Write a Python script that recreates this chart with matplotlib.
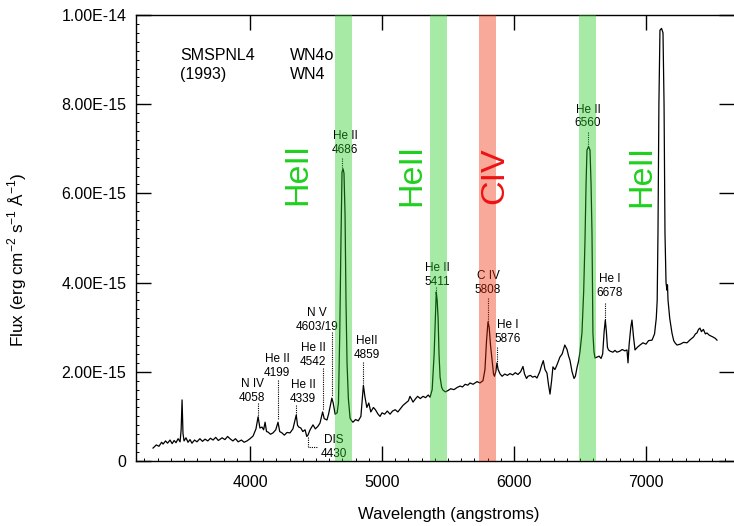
import matplotlib
matplotlib.use("Agg")
import matplotlib.pyplot as plt
from matplotlib.ticker import MultipleLocator

plt.rcParams['font.family'] = ['Liberation Sans', 'DejaVu Sans']
plt.rcParams['mathtext.fontset'] = 'custom'
plt.rcParams['mathtext.rm'] = 'Liberation Sans'

# ---------------- data ----------------
wavelength = [
    3265, 3290, 3310, 3330, 3341, 3360, 3375, 3394, 3410, 3425, 3439, 3455, 3470, 3478, 3485, 3492,
    3500, 3515, 3530, 3545, 3560, 3580, 3598, 3620, 3640, 3659, 3680, 3700, 3720, 3740, 3760, 3788,
    3810, 3830, 3848, 3870, 3890, 3910, 3935, 3955, 3977, 4000, 4023, 4045, 4061, 4075, 4091, 4103,
    4114, 4125, 4136, 4155, 4174, 4195, 4212, 4225, 4242, 4260, 4280, 4303, 4325, 4350, 4360, 4370,
    4385, 4400, 4417, 4430, 4439, 4455, 4477, 4495, 4515, 4530, 4550, 4562, 4583, 4595, 4606, 4620,
    4630, 4645, 4660, 4670, 4680, 4689, 4697, 4705, 4712, 4720, 4727, 4735, 4745, 4758, 4770, 4780,
    4800, 4820, 4840, 4859, 4870, 4885, 4900, 4915, 4935, 4950, 4970, 4985, 5000, 5020, 5040, 5061,
    5080, 5100, 5120, 5136, 5160, 5180, 5200, 5212, 5225, 5235, 5255, 5270, 5290, 5311, 5330, 5350,
    5364, 5380, 5395, 5405, 5411, 5418, 5425, 5432, 5440, 5452, 5462, 5480, 5500, 5520, 5545, 5570,
    5591, 5610, 5630, 5650, 5667, 5690, 5720, 5742, 5765, 5780, 5792, 5803, 5812, 5822, 5833, 5845,
    5852, 5862, 5871, 5880, 5895, 5910, 5930, 5950, 5970, 5990, 6010, 6030, 6050, 6068, 6080, 6095,
    6106, 6125, 6140, 6160, 6174, 6195, 6210, 6222, 6235, 6250, 6262, 6273, 6285, 6295, 6310, 6325,
    6348, 6365, 6385, 6402, 6414, 6424, 6440, 6455, 6465, 6478, 6490, 6500, 6515, 6528, 6538, 6546,
    6553, 6565, 6576, 6584, 6591, 6598, 6606, 6614, 6630, 6645, 6660, 6672, 6683, 6692, 6700, 6708,
    6716, 6730, 6750, 6765, 6780, 6800, 6820, 6840, 6856, 6864, 6872, 6885, 6894, 6905, 6917, 6935,
    6955, 6977, 7000, 7020, 7046, 7065, 7078, 7085, 7091, 7098, 7106, 7118, 7129, 7137, 7144, 7152,
    7159, 7163, 7167, 7180, 7197, 7210, 7220, 7235, 7260, 7285, 7311, 7335, 7360, 7375, 7386, 7398,
    7409, 7420, 7435, 7450, 7462, 7480, 7495, 7508, 7525, 7538,
]
flux_e15 = [
    0.29, 0.36, 0.33, 0.42, 0.38, 0.45, 0.40, 0.47, 0.39, 0.46, 0.41, 0.50, 0.43, 0.70, 1.37, 0.62,
    0.45, 0.52, 0.42, 0.48, 0.40, 0.47, 0.43, 0.50, 0.44, 0.49, 0.45, 0.51, 0.47, 0.53, 0.46, 0.52,
    0.48, 0.55, 0.50, 0.45, 0.50, 0.43, 0.47, 0.42, 0.45, 0.50, 0.56, 0.72, 0.99, 0.74, 0.76, 0.70,
    0.87, 0.66, 0.65, 0.60, 0.63, 0.70, 0.87, 0.66, 0.63, 0.58, 0.64, 0.63, 0.72, 1.03, 0.80, 0.76,
    0.74, 0.66, 0.70, 0.55, 0.58, 0.70, 0.81, 0.72, 0.78, 0.85, 1.10, 0.95, 0.92, 1.05, 1.21, 1.41,
    1.30, 1.05, 1.08, 1.30, 2.90, 4.95, 6.48, 6.55, 6.45, 5.52, 3.61, 2.20, 1.40, 0.96, 0.90, 0.87,
    0.93, 0.90, 1.00, 1.70, 1.45, 1.20, 1.30, 1.10, 1.20, 1.15, 1.05, 1.00, 1.08, 1.05, 1.12, 1.05,
    1.12, 1.15, 1.10, 1.16, 1.25, 1.30, 1.35, 1.45, 1.38, 1.32, 1.40, 1.45, 1.40, 1.45, 1.42, 1.48,
    1.43, 1.60, 2.40, 3.30, 3.79, 3.60, 3.20, 2.40, 1.88, 1.65, 1.59, 1.55, 1.58, 1.62, 1.60, 1.65,
    1.68, 1.66, 1.72, 1.70, 1.75, 1.72, 1.78, 1.75, 1.80, 2.05, 2.70, 3.12, 3.00, 2.60, 2.30, 1.95,
    1.90, 2.00, 2.20, 2.05, 1.95, 1.90, 1.95, 1.92, 1.96, 1.93, 1.98, 1.94, 2.00, 2.12, 1.95, 1.85,
    1.90, 1.92, 1.88, 1.90, 1.86, 2.00, 2.15, 2.25, 2.05, 1.97, 1.70, 1.50, 1.80, 2.11, 2.05, 2.15,
    2.33, 2.40, 2.60, 2.50, 2.35, 2.26, 2.00, 1.85, 1.90, 2.10, 2.25, 2.45, 2.87, 3.80, 4.95, 6.20,
    6.97, 7.05, 6.97, 6.20, 5.11, 2.87, 2.45, 2.31, 2.33, 2.35, 2.30, 2.40, 2.90, 3.16, 2.90, 2.55,
    2.49, 2.46, 2.44, 2.48, 2.44, 2.46, 2.50, 2.47, 2.49, 2.20, 2.60, 3.00, 3.16, 2.80, 2.49, 2.55,
    2.60, 2.65, 2.62, 2.70, 2.71, 2.85, 3.20, 3.60, 5.11, 8.00, 9.66, 9.70, 9.60, 8.00, 5.11, 4.00,
    3.83, 3.95, 3.61, 3.20, 2.87, 2.70, 2.65, 2.60, 2.62, 2.66, 2.65, 2.72, 2.78, 2.85, 2.87, 2.95,
    2.98, 2.90, 2.95, 2.85, 2.87, 2.82, 2.80, 2.78, 2.75, 2.71,
]
FLUX_UNIT = 1e-15

# x ticks / y ticks
xtick_values = [4000, 5000, 6000, 7000]
xtick_labels = ["4000", "5000", "6000", "7000"]
ytick_values_e15 = [0, 2, 4, 6, 8, 10]
ytick_labels = ["0", "2.00E-15", "4.00E-15", "6.00E-15", "8.00E-15", "1.00E-14"]

# line identifications: text, text position (wavelength, flux), marker line (wavelength, flux from, flux to)
line_labels = ["N IV\n4058", "He II\n4199", "He II\n4339", "He II\n4542", "N V\n4603/19",
               "HeII\n4859", "He II\n4686", "He II\n5411", "C IV\n5808", "He I\n5876",
               "He II\n6560", "He I\n6678"]
label_wl = [4015, 4205, 4402, 4477, 4508, 4886, 4720, 5417, 5803, 5955, 6561, 6727]
label_fx = [1.57, 2.13, 1.55, 2.38, 3.16, 2.53, 7.13, 4.17, 3.99, 2.89, 7.73, 3.92]
mark_wl = [4061, 4212, 4350, 4550, 4621, 4859, 4700, 5411, 5803, 5871, 6561, 6692]
mark_f0 = [1.30, 1.82, 1.26, 2.09, 2.89, 2.22, 6.79, 3.90, 3.65, 2.56, 7.38, 3.54]
mark_f1 = [0.99, 0.92, 1.03, 1.14, 1.46, 1.75, 6.55, 3.79, 3.12, 2.20, 7.05, 3.16]

# diffuse interstellar band marker
dis_label = "DIS\n4430"
dis_text_pos = (4636, 0.31)
dis_wl = [4439, 4439, 4515]
dis_fx = [0.54, 0.31, 0.31]

# highlighted bands: (centre, half width), colour, label
band_centers = [4708, 5428, 5800, 6556]
band_halfwidth = [64, 64, 64, 64]
band_colors = ["#22cc22", "#22cc22", "#f02800", "#22cc22"]
band_text = ["HeII", "HeII", "CIV", "HeII"]
band_text_wl = [4361, 5228, 5856, 6968]
band_text_colors = ["#1fd01f", "#1fd01f", "#ee1111", "#1fd01f"]
band_text_fx = [6.44, 6.42, 6.39, 6.39]

# ---------------- figure ----------------
fig = plt.figure(figsize=(7.34, 5.26), dpi=100)
ax = fig.add_axes([136 / 734, 65 / 526, 1 - 136 / 734, 446 / 526])

flux = [f * FLUX_UNIT for f in flux_e15]
ax.plot(wavelength, flux, color="black", lw=0.9, zorder=2)

ax.set_xlim(3136, 7667)
ax.set_ylim(0, 1e-14)

ax.set_xticks(xtick_values)
ax.set_xticklabels(xtick_labels)
ax.set_yticks([v * FLUX_UNIT for v in ytick_values_e15])
ax.set_yticklabels(ytick_labels)
ax.xaxis.set_minor_locator(MultipleLocator(100))
ax.yaxis.set_minor_locator(MultipleLocator(2e-16))

ax.tick_params(axis="both", which="major", direction="in", length=11, width=1,
               labelsize=11.5, top=True, right=True)
ax.tick_params(axis="both", which="minor", direction="in", length=2.5, width=0.7,
               top=False, right=False)
ax.tick_params(axis="x", which="major", pad=10)
ax.tick_params(axis="y", which="major", pad=7)
ax.spines["right"].set_visible(False)
for s in ["left", "bottom", "top"]:
    ax.spines[s].set_linewidth(1.0)

ax.set_xlabel("Wavelength (angstroms)", fontsize=12)
ax.xaxis.set_label_coords((449 - 136) / 598, (461 - 507) / 446)
ax.set_ylabel(r"Flux (erg cm$^{-2}$ s$^{-1}$ Å$^{-1}$)", fontsize=12.3)
ax.yaxis.set_label_coords((29 - 136) / 598, (461 - 260) / 446)

# header text
ax.text(3470, 9.10e-15, "SMSPNL4", fontsize=11.5, ha="left", va="center")
ax.text(3470, 8.66e-15, "(1993)", fontsize=11.5, ha="left", va="center")
ax.text(4303, 9.10e-15, "WN4o", fontsize=11.5, ha="left", va="center")
ax.text(4303, 8.66e-15, "WN4", fontsize=11.5, ha="left", va="center")

# line identifications
for txt, lx, ly, mx, m0, m1 in zip(line_labels, label_wl, label_fx, mark_wl, mark_f0, mark_f1):
    ax.text(lx, ly * FLUX_UNIT, txt, fontsize=8.5, ha="center", va="center",
            linespacing=1.15, zorder=2)
    ax.plot([mx, mx], [m0 * FLUX_UNIT, m1 * FLUX_UNIT], color="black", lw=0.8,
            ls=(0, (1, 1)), zorder=2)

ax.text(dis_text_pos[0], dis_text_pos[1] * FLUX_UNIT, dis_label, fontsize=8.5,
        ha="center", va="center", linespacing=1.15, zorder=2)
ax.plot(dis_wl, [f * FLUX_UNIT for f in dis_fx], color="black", lw=0.8,
        ls=(0, (1, 1)), zorder=2)

# highlighted bands and big labels
for c, hw, col in zip(band_centers, band_halfwidth, band_colors):
    ax.axvspan(c - hw, c + hw, color=col, alpha=0.4, lw=0, zorder=3)
for t, tx, tf, tc in zip(band_text, band_text_wl, band_text_fx, band_text_colors):
    ax.text(tx, tf * FLUX_UNIT, t, rotation=90, fontsize=24.5, color=tc,
            ha="center", va="center", zorder=5)

fig.savefig("out.png", dpi=100)
